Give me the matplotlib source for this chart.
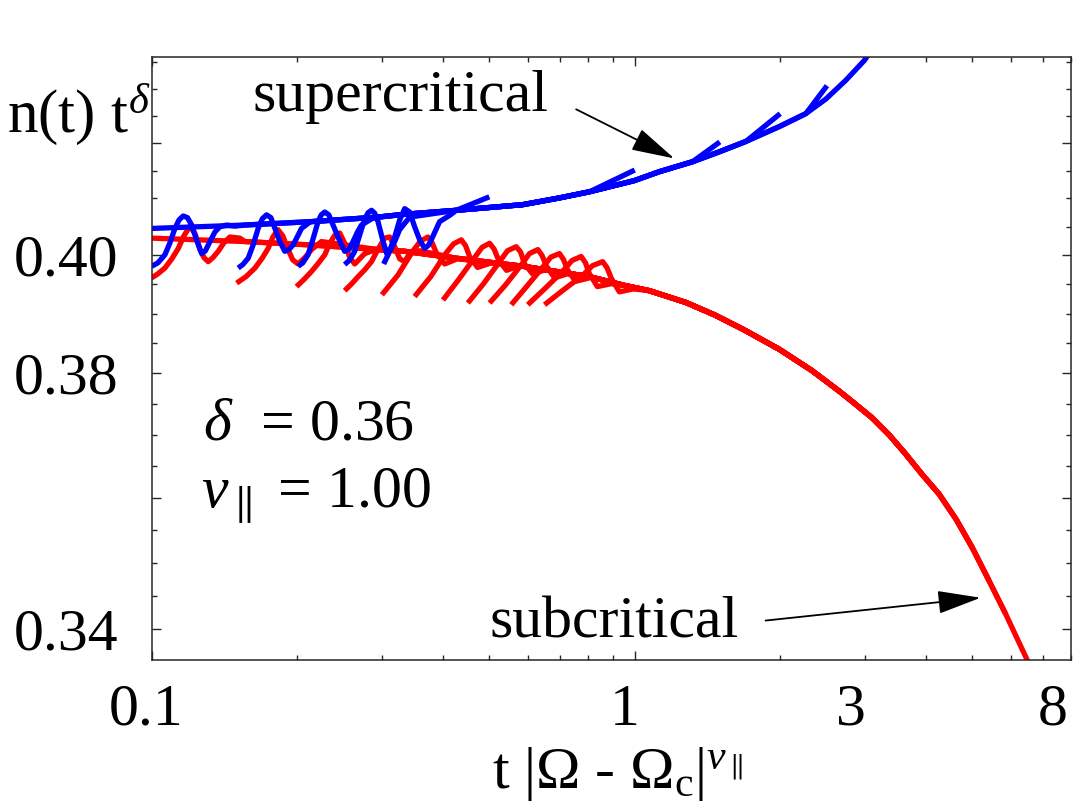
import numpy as np
import matplotlib
matplotlib.use('Agg')
import matplotlib.pyplot as plt
from matplotlib.ticker import NullFormatter
from matplotlib.transforms import ScaledTranslation

plt.rcParams['font.family'] = ['Liberation Serif', 'DejaVu Serif']
plt.rcParams['mathtext.fontset'] = 'custom'
plt.rcParams['mathtext.rm'] = 'Liberation Serif'
plt.rcParams['mathtext.it'] = 'Liberation Serif:italic'
plt.rcParams['mathtext.bf'] = 'Liberation Serif:bold'

# collapsed supercritical curve (blue)
sup_x = [0.1, 0.156, 0.214, 0.294, 0.334, 0.427, 0.586, 0.698, 0.806, 0.998, 1.124,
         1.317, 1.496, 1.699, 1.99, 2.26, 2.486, 2.734, 2.984, 3.1]
sup_y = [0.4047, 0.4053, 0.4059, 0.4067, 0.4072, 0.4079, 0.4089, 0.4101, 0.4112, 0.4132, 0.4148,
         0.4166, 0.4184, 0.4203, 0.4230, 0.4254, 0.4281, 0.4316, 0.4353, 0.4375]

# early-time oscillations of each blue run (first run starts left of the axis)
sup_osc_x = [
    [],
    [0.1, 0.1030, 0.1065, 0.1091, 0.1117, 0.1139, 0.1162, 0.1186, 0.1210, 0.1238, 0.1269,
     0.1292, 0.1320, 0.1352, 0.1384, 0.1429, 0.1487],
    [0.1510, 0.1544, 0.1584, 0.1620, 0.1661, 0.1694, 0.1729, 0.1765, 0.1799, 0.1842, 0.1886,
     0.1922, 0.1962, 0.2001, 0.2042, 0.2124],
    [0.2009, 0.2055, 0.2107, 0.2155, 0.2210, 0.2244, 0.2282, 0.2326, 0.2374, 0.2439, 0.2509,
     0.2558, 0.2611, 0.2664, 0.2718, 0.2854],
    [0.2509, 0.2570, 0.2632, 0.2696, 0.2761, 0.2807, 0.2851, 0.2895, 0.2941, 0.3007, 0.3065,
     0.3124, 0.3184, 0.3261, 0.3420],
    [0.3021, 0.3094, 0.3184, 0.3261, 0.3340, 0.3420, 0.3502, 0.3587, 0.3673, 0.3744, 0.3815,
     0.3945, 0.4138],
]
sup_osc_y = [
    [],
    [0.3981, 0.3987, 0.4001, 0.4022, 0.4047, 0.4062, 0.4069, 0.4066, 0.4053, 0.4027, 0.4003,
     0.4008, 0.4024, 0.4041, 0.4050, 0.4053, 0.4051],
    [0.3978, 0.3984, 0.3995, 0.4017, 0.4047, 0.4064, 0.4071, 0.4066, 0.4047, 0.4024, 0.4007,
     0.4010, 0.4018, 0.4032, 0.4047, 0.4058],
    [0.3981, 0.3987, 0.4001, 0.4027, 0.4059, 0.4071, 0.4076, 0.4071, 0.4053, 0.4029, 0.4007,
     0.4010, 0.4024, 0.4040, 0.4053, 0.4064],
    [0.3984, 0.3992, 0.4007, 0.4036, 0.4064, 0.4075, 0.4079, 0.4074, 0.4059, 0.4027, 0.4003,
     0.4010, 0.4024, 0.4045, 0.4067],
    [0.3985, 0.4003, 0.4032, 0.4062, 0.4082, 0.4076, 0.4050, 0.4027, 0.4012, 0.4018, 0.4032,
     0.4059, 0.4070],
]
# where each blue run leaves the collapsed curve, and its last point
sup_tail_from = [0.44, 0.9, 1.32, 1.78, 2.26, 9.0]
sup_end_x = [0.5, 1.0, 1.5, 2.0, 2.5, None]
sup_end_y = [0.4103, 0.4151, 0.4202, 0.4254, 0.4306, None]

# collapsed subcritical curve (red)
sub_x = [0.1, 0.156, 0.214, 0.294, 0.334, 0.427, 0.587, 0.806, 0.952, 1.072, 1.275, 1.461,
         1.680, 1.991, 2.323, 2.648, 2.858, 3.103, 3.360, 3.638, 3.932, 4.264, 4.622, 4.996,
         5.409, 5.857, 6.492, 7.03]
sub_y = [0.4030, 0.4024, 0.4018, 0.4010, 0.4007, 0.3995, 0.3981, 0.3963, 0.3948, 0.3939, 0.3919, 0.3898,
         0.3873, 0.3840, 0.3805, 0.3771, 0.3750, 0.3727, 0.3700, 0.3669, 0.3637, 0.3606, 0.3567, 0.3523,
         0.3473, 0.3423, 0.3355, 0.3303]

sub_osc_x = [
    [],
    [0.1, 0.1030, 0.1065, 0.1101, 0.1135, 0.1166, 0.1200, 0.1229, 0.1259, 0.1283, 0.1309,
     0.1339, 0.1373, 0.1411, 0.1452, 0.1522],
    [0.1499, 0.1567, 0.1636, 0.1690, 0.1742, 0.1782, 0.1825, 0.1868, 0.1916, 0.1959, 0.2009,
     0.2075, 0.2142, 0.2246],
    [0.1994, 0.2065, 0.2142, 0.2207, 0.2282, 0.2337, 0.2393, 0.2451, 0.2509, 0.2570, 0.2632,
     0.2696, 0.2761, 0.2938],
    [0.2509, 0.2595, 0.2674, 0.2761, 0.2851, 0.2938, 0.3035, 0.3109, 0.3184, 0.3261, 0.3340,
     0.3420, 0.3587],
    [0.2996, 0.3235, 0.3469, 0.3603, 0.3731, 0.3806, 0.3889, 0.4041, 0.4297],
    [0.3502, 0.3780, 0.4059, 0.4217, 0.4374, 0.4464, 0.4550, 0.4727, 0.5053],
    [0.4008, 0.4318, 0.4661, 0.4830, 0.5006, 0.5114, 0.5224, 0.5427, 0.5774],
    [0.4514, 0.4864, 0.5250, 0.5452, 0.5683, 0.5802, 0.5913, 0.6142, 0.6536],
    [0.5006, 0.5402, 0.5830, 0.6053, 0.6300, 0.6426, 0.6566, 0.6822, 0.7255],
    [0.5550, 0.5970, 0.6442, 0.6707, 0.6984, 0.7118, 0.7255, 0.7539, 0.8056],
    [0.6005, 0.6505, 0.7084, 0.7413, 0.7745, 0.7906, 0.8056, 0.8369, 0.8945],
    [0.6505, 0.7084, 0.7794, 0.8172, 0.8580, 0.8755, 0.8945, 0.9294, 0.9934],
]
sub_osc_y = [
    [],
    [0.3961, 0.3968, 0.3978, 0.3994, 0.4012, 0.4034, 0.4051, 0.4038, 0.4010, 0.3996, 0.3989,
     0.3996, 0.4007, 0.4022, 0.4032, 0.4030],
    [0.3952, 0.3963, 0.3978, 0.3994, 0.4012, 0.4032, 0.4045, 0.4034, 0.4010, 0.3992, 0.3985,
     0.3996, 0.4010, 0.4024],
    [0.3946, 0.3958, 0.3972, 0.3985, 0.4001, 0.4021, 0.4035, 0.4039, 0.4021, 0.3996, 0.3985,
     0.3994, 0.4003, 0.4011],
    [0.3939, 0.3951, 0.3963, 0.3975, 0.3989, 0.4010, 0.4030, 0.4032, 0.4015, 0.3994, 0.3989,
     0.4003, 0.4008],
    [0.3932, 0.3966, 0.4007, 0.4025, 0.4032, 0.4022, 0.4003, 0.3985, 0.3994],
    [0.3929, 0.3963, 0.4003, 0.4020, 0.4027, 0.4017, 0.3998, 0.3979, 0.3987],
    [0.3923, 0.3958, 0.3996, 0.4014, 0.4021, 0.4011, 0.3992, 0.3974, 0.3982],
    [0.3918, 0.3951, 0.3989, 0.4008, 0.4015, 0.4006, 0.3985, 0.3968, 0.3975],
    [0.3918, 0.3949, 0.3984, 0.4003, 0.4010, 0.4000, 0.3981, 0.3961, 0.3968],
    [0.3915, 0.3946, 0.3979, 0.3997, 0.4003, 0.3993, 0.3975, 0.3955, 0.3961],
    [0.3915, 0.3942, 0.3972, 0.3991, 0.3998, 0.3987, 0.3968, 0.3946, 0.3951],
    [0.3915, 0.3939, 0.3965, 0.3982, 0.3989, 0.3979, 0.3960, 0.3937, 0.3942],
]
sub_end = [0.5, 1.0, 1.5, 2.0, 2.5, 3.0, 3.5, 4.0, 4.5, 5.0, 5.5, 6.0, 7.1]

BLUE = '#0000ff'
RED = '#ff0000'
AX_COL = '#262626'
LW = 3.8


def join(ox, oy, mx, my, upto):
    mx = np.asarray(mx)
    my = np.asarray(my)
    start = ox[-1] if len(ox) else 0.0
    keep = (mx > start) & (mx <= upto)
    return np.r_[ox, mx[keep]], np.r_[oy, my[keep]]


fig = plt.figure(figsize=(10.74, 8.02), dpi=100)
ax = fig.add_axes([0.14125, 0.17706, 0.85596, 0.75187])

for ox, oy, e in zip(sub_osc_x, sub_osc_y, sub_end):
    xx, yy = join(ox, oy, sub_x, sub_y, e)
    ax.plot(xx, yy, color=RED, lw=LW, solid_capstyle='butt', solid_joinstyle='round')

for ox, oy, t0, ex, ey in zip(sup_osc_x, sup_osc_y, sup_tail_from, sup_end_x, sup_end_y):
    xx, yy = join(ox, oy, sup_x, sup_y, t0)
    if ex is not None:
        xx = np.r_[xx, ex]
        yy = np.r_[yy, ey]
    ax.plot(xx, yy, color=BLUE, lw=LW, solid_capstyle='butt', solid_joinstyle='round')

ax.set_xscale('log')
ax.set_yscale('log')
ax.set_xlim(0.1, 8)
ax.set_ylim(0.3355, 0.436)

ax.set_xticks([0.1, 1], labels=['0.1', '1'])
ax.set_xticks([0.2, 0.3, 0.4, 0.5, 0.6, 0.7, 0.8, 0.9, 2, 3, 4, 5, 6, 7, 8],
              labels=['', '', '', '', '', '', '', '', '', '3', '', '', '', '', '8'], minor=True)
ax.set_yticks([0.34, 0.36, 0.38, 0.40, 0.42], labels=['0.34', '', '0.38', '0.40', ''])
ax.set_yticks([0.345, 0.35, 0.355, 0.365, 0.37, 0.375, 0.385, 0.39, 0.395,
               0.405, 0.41, 0.415, 0.425, 0.43, 0.435], minor=True)
ax.yaxis.set_minor_formatter(NullFormatter())

ax.tick_params(which='both', direction='in', top=True, right=True, color=AX_COL,
               width=1.0, labelsize=43)
ax.tick_params(which='major', length=6.5)
ax.tick_params(which='minor', length=3.5)
ax.tick_params(axis='x', which='both', pad=17)
ax.tick_params(axis='y', which='both', pad=24)
for s in ax.spines.values():
    s.set_color(AX_COL)
    s.set_linewidth(1.1)

# MATLAB-ish label placement, nudged left a little
for tick, dx in zip(ax.xaxis.get_major_ticks(), [-6, -10]):
    tick.label1.set_transform(tick.label1.get_transform() +
                              ScaledTranslation(dx / 100, 0, fig.dpi_scale_trans))
mt = ax.xaxis.get_minor_ticks()
for i, dx in [(9, -14), (14, -18)]:
    mt[i].label1.set_transform(mt[i].label1.get_transform() +
                               ScaledTranslation(dx / 100, 0, fig.dpi_scale_trans))

ax.set_xlabel(r't $|\Omega$ - $\Omega_{\rm c}|^{\nu_{\parallel}}$', fontsize=43, va='baseline')
ax.xaxis.set_label_coords(0.507, -0.212)
ax.set_ylabel(r'n(t) t$^{\delta}$', fontsize=44, rotation=0, ha='left', va='baseline')
ax.yaxis.set_label_coords(-0.1574, 0.8756)

ax.text(0.110, 0.910, 'supercritical', transform=ax.transAxes, fontsize=43,
        ha='left', va='baseline')
ax.text(0.367, 0.0365, 'subcritical', transform=ax.transAxes, fontsize=43,
        ha='left', va='baseline')
ax.text(0.0558, 0.365, r'$\delta$  = 0.36', transform=ax.transAxes, fontsize=43,
        ha='left', va='baseline')
ax.text(0.0536, 0.252, r'$\nu_{\parallel}$ = 1.00', transform=ax.transAxes, fontsize=43,
        ha='left', va='baseline')

arrow = dict(arrowstyle='-|>,head_length=0.45,head_width=0.12', color='k', lw=1.3,
             mutation_scale=60, shrinkA=0, shrinkB=0)
ax.annotate('', xy=(1.207, 0.4172), xytext=(0.7562, 0.4262), arrowprops=arrow)
ax.annotate('', xy=(5.20, 0.3447), xytext=(1.866, 0.3413), arrowprops=arrow)

fig.savefig('out.png', dpi=100)
